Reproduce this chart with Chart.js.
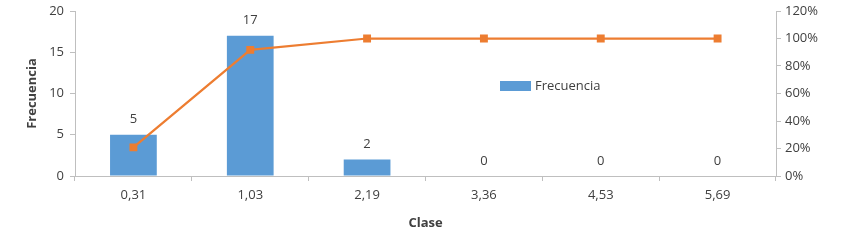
<!DOCTYPE html>
<html>
<head>
<meta charset="utf-8">
<script src="https://cdn.jsdelivr.net/npm/chart.js@4"></script>
<style>
  html, body { margin: 0; padding: 0; background: #fff; }
  #wrap { width: 850px; height: 243px; }
</style>
</head>
<body>
<div id="wrap"><canvas id="myChart"></canvas></div>
<script>
const clases = ['0,31', '1,03', '2,19', '3,36', '4,53', '5,69'];
const frecuencia = [5, 17, 2, 0, 0, 0];
const acumulado = [0.208, 0.917, 1, 1, 1, 1];
const freqTicks = [0, 5, 10, 15, 20];
const pctTicks = [0, 0.2, 0.4, 0.6, 0.8, 1, 1.2];

const FONT = "'Open Sans', sans-serif";
const AXIS = '#bfbfbf';
const TEXT = '#404040';

// bar value labels + legend placed inside plot area
const extras = {
    id: 'extras',
    afterDatasetsDraw(chart) {
        const ctx = chart.ctx;
        ctx.save();
        ctx.font = '13px ' + FONT;
        ctx.fillStyle = TEXT;
        ctx.textAlign = 'center';
        ctx.textBaseline = 'middle';
        chart.getDatasetMeta(1).data.forEach((bar, i) => {
            ctx.fillText(String(frecuencia[i]), bar.x, bar.y - 15);
        });
        // legend
        const a = chart.chartArea;
        const lx = a.left + 425, ly = a.top + 70;
        ctx.fillStyle = '#5b9bd5';
        ctx.fillRect(lx, ly, 31, 10);
        ctx.fillStyle = TEXT;
        ctx.textAlign = 'left';
        ctx.fillText('Frecuencia', lx + 35, ly + 5);
        ctx.restore();
    }
};

const noPad = s => { s.paddingTop = 0; s.paddingBottom = 0; };

new Chart(document.getElementById('myChart'), {
    data: {
        labels: clases,
        datasets: [
            {
                type: 'line',
                label: 'Acumulado',
                data: acumulado,
                yAxisID: 'y2',
                borderColor: '#ed7d31',
                backgroundColor: '#ed7d31',
                borderWidth: 2.25,
                pointStyle: 'rect',
                pointRadius: 4,
                pointHoverRadius: 4,
                tension: 0,
                order: 0
            },
            {
                type: 'bar',
                label: 'Frecuencia',
                data: frecuencia,
                yAxisID: 'y',
                backgroundColor: '#5b9bd5',
                borderWidth: 0,
                barPercentage: 0.4,
                categoryPercentage: 1,
                order: 1
            }
        ]
    },
    options: {
        responsive: true,
        maintainAspectRatio: false,
        animation: false,
        layout: { padding: { top: 11, left: 0, right: 0, bottom: 0 } },
        plugins: {
            legend: { display: false },
            tooltip: { enabled: false }
        },
        scales: {
            x: {
                offset: true,
                grid: { offset: true, drawOnChartArea: false, drawTicks: true, tickLength: 5, color: AXIS },
                border: { display: true, color: AXIS },
                ticks: { color: TEXT, font: { family: FONT, size: 13 }, padding: 6 },
                title: { display: true, text: 'Clase', color: TEXT, font: { family: FONT, size: 13, weight: 'bold' }, padding: { top: 4, bottom: 12 } },
                afterFit: s => { s.height = 67; }
            },
            y: {
                position: 'left',
                min: 0,
                max: 20,
                afterBuildTicks: s => { s.ticks = freqTicks.map(v => ({ value: v })); },
                grid: { drawOnChartArea: false, tickLength: 5, color: AXIS },
                border: { display: true, color: AXIS },
                ticks: { color: TEXT, font: { family: FONT, size: 13 }, padding: 6 },
                title: { display: true, text: 'Frecuencia', color: TEXT, font: { family: FONT, size: 13, weight: 'bold' }, padding: { top: 24, bottom: 0 } },
                afterFit: s => { s.width = 75; noPad(s); }
            },
            y2: {
                position: 'right',
                min: 0,
                max: 1.2,
                afterBuildTicks: s => { s.ticks = pctTicks.map(v => ({ value: v })); },
                grid: { drawOnChartArea: false, tickLength: 5, color: AXIS },
                border: { display: true, color: AXIS },
                ticks: {
                    color: TEXT, font: { family: FONT, size: 13 }, padding: 4,
                    callback: v => Math.round(v * 100) + '%'
                },
                afterFit: s => { s.width = 74; noPad(s); }
            }
        }
    },
    plugins: [extras]
});
</script>
</body>
</html>
